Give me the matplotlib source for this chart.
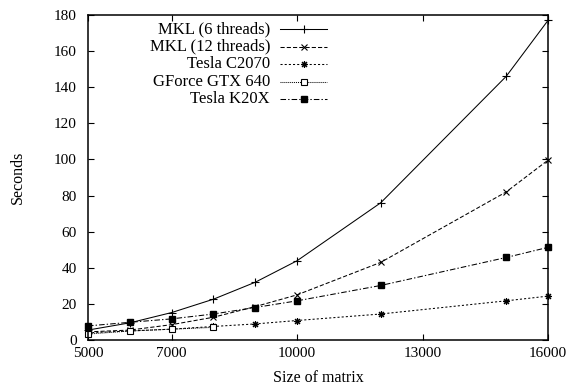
import matplotlib
matplotlib.use("Agg")
import matplotlib.pyplot as plt

plt.rcParams['font.family'] = ['Liberation Serif', 'DejaVu Serif']
plt.rcParams['font.size'] = 11
plt.rcParams['lines.scale_dashes'] = False

# matrix sizes
sizes = [5000, 6000, 7000, 8000, 9000, 10000, 12000, 15000, 16000]
gtx_sizes = [5000, 6000, 7000, 8000]

mkl6 = [5.5, 9.5, 15.2, 22.6, 32.0, 43.9, 76.0, 146.0, 177.0]
mkl12 = [4.5, 5.5, 8.5, 12.6, 18.5, 25.0, 43.0, 82.0, 99.6]
c2070 = [4.0, 5.0, 6.0, 7.5, 8.9, 10.8, 14.4, 21.7, 24.3]
gtx640 = [3.3, 5.0, 6.0, 7.0]
k20x = [7.8, 9.8, 11.7, 14.4, 18.0, 21.7, 30.2, 45.7, 51.3]

labels = ['MKL (6 threads)', 'MKL (12 threads)', 'Tesla C2070',
          'GForce GTX 640', 'Tesla K20X']
xticks = [5000, 7000, 10000, 13000, 16000]
yticks = list(range(0, 181, 20))

fig = plt.figure(figsize=(5.71, 3.89), dpi=100)
ax = fig.add_axes([88 / 571, 49 / 389, 460 / 571, 325 / 389])

lw = 0.75
styles = [
    dict(ls='-', marker='+', ms=6, mew=0.8, color='black'),
    dict(ls=(0, (3, 1.5)), marker='x', ms=4.5, mew=0.8, color='black'),
    dict(ls=(0, (1.5, 1.5)), marker=(8, 2, 0), ms=5, mew=0.8, color='black'),
    dict(ls=(0, (0.7, 0.7)), marker='s', ms=4.5, mew=0.8, mfc='white', color='black'),
    dict(ls=(0, (4, 1.5, 1, 1.5)), marker='s', ms=5, color='black'),
]
series = [(sizes, mkl6), (sizes, mkl12), (sizes, c2070),
          (gtx_sizes, gtx640), (sizes, k20x)]

for (xs, ys), st in zip(series, styles):
    ax.plot(xs, ys, lw=lw, clip_on=False, **st)

# gnuplot style key: text right-aligned, sample to the right
for i, (lab, st) in enumerate(zip(labels, styles)):
    yk = 1 - (14 + 17.5 * i) / 325
    ax.plot([192 / 460, 215.5 / 460, 239 / 460], [yk, yk, yk],
            transform=ax.transAxes, lw=lw, markevery=[1], **st)
    ax.text(182 / 460, yk, lab, transform=ax.transAxes,
            ha='right', va='center', fontsize=12)

ax.set_xlim(5000, 16000)
ax.set_ylim(0, 180)
ax.set_xticks(xticks)
ax.set_yticks(yticks)
ax.tick_params(direction='in', top=True, right=True, length=4, width=0.8)
ax.tick_params(axis='x', pad=5)
ax.tick_params(axis='y', pad=8)
for s in ax.spines.values():
    s.set_linewidth(1.1)

ax.set_xlabel('Size of matrix', labelpad=7, fontsize=11.5)
ax.set_ylabel('Seconds', labelpad=20, fontsize=11.5)

fig.savefig('out.png', dpi=100)
